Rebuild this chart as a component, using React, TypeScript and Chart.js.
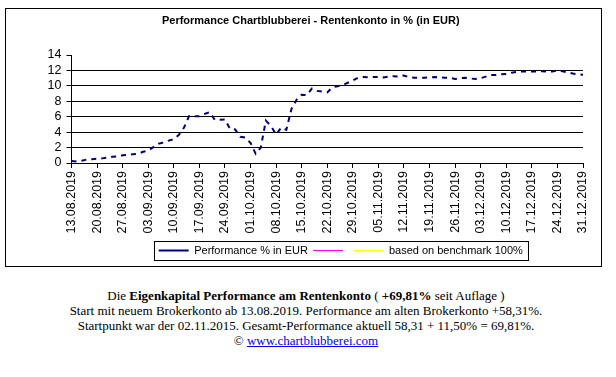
import React, { useEffect, useRef } from 'react';
import { Chart, registerables } from 'chart.js';

Chart.register(...registerables);

const chartTitle = 'Performance Chartblubberei - Rentenkonto in % (in EUR)';

const dates = [
  '13.08.2019', '14.08.2019', '15.08.2019', '16.08.2019', '19.08.2019', '20.08.2019', '21.08.2019', '22.08.2019', '23.08.2019', '26.08.2019',
  '27.08.2019', '28.08.2019', '29.08.2019', '30.08.2019', '02.09.2019', '03.09.2019', '04.09.2019', '05.09.2019', '06.09.2019', '09.09.2019',
  '10.09.2019', '11.09.2019', '12.09.2019', '13.09.2019', '16.09.2019', '17.09.2019', '18.09.2019', '19.09.2019', '20.09.2019', '23.09.2019',
  '24.09.2019', '25.09.2019', '26.09.2019', '27.09.2019', '30.09.2019', '01.10.2019', '02.10.2019', '03.10.2019', '04.10.2019', '07.10.2019',
  '08.10.2019', '09.10.2019', '10.10.2019', '11.10.2019', '14.10.2019', '15.10.2019', '16.10.2019', '17.10.2019', '18.10.2019', '21.10.2019',
  '22.10.2019', '23.10.2019', '24.10.2019', '25.10.2019', '28.10.2019', '29.10.2019', '30.10.2019', '31.10.2019', '01.11.2019', '04.11.2019',
  '05.11.2019', '06.11.2019', '07.11.2019', '08.11.2019', '11.11.2019', '12.11.2019', '13.11.2019', '14.11.2019', '15.11.2019', '18.11.2019',
  '19.11.2019', '20.11.2019', '21.11.2019', '22.11.2019', '25.11.2019', '26.11.2019', '27.11.2019', '28.11.2019', '29.11.2019', '02.12.2019',
  '03.12.2019', '04.12.2019', '05.12.2019', '06.12.2019', '09.12.2019', '10.12.2019', '11.12.2019', '12.12.2019', '13.12.2019', '16.12.2019',
  '17.12.2019', '18.12.2019', '19.12.2019', '20.12.2019', '23.12.2019', '24.12.2019', '25.12.2019', '26.12.2019', '27.12.2019', '30.12.2019',
  '31.12.2019',
];

const performance = [
  0.25, 0.2, 0.3, 0.45, 0.5, 0.55, 0.6, 0.7, 0.8, 0.85,
  1.0, 1.05, 1.15, 1.2, 1.45, 1.6, 2.05, 2.5, 2.65, 2.9,
  3.1, 3.65, 4.6, 6.1, 6.05, 6.05, 6.35, 6.6, 5.6, 5.6,
  5.65, 4.4, 4.35, 3.4, 3.3, 2.6, 1.2, 2.0, 5.5, 4.8,
  3.7, 4.6, 4.3, 7.0, 8.2, 8.85, 8.8, 9.65, 9.35, 9.25,
  9.15, 9.8, 9.95, 10.1, 10.4, 10.7, 11.05, 11.15, 11.1, 11.15,
  11.15, 11.1, 11.2, 11.25, 11.2, 11.35, 11.1, 11.05, 11.05, 11.05,
  11.1, 11.15, 11.1, 11.05, 11.05, 10.9, 11.0, 11.05, 10.95, 10.9,
  11.0, 11.2, 11.4, 11.4, 11.5, 11.55, 11.7, 11.8, 11.85, 11.85,
  11.85, 11.85, 11.9, 11.85, 11.85, 12.0, 11.9, 11.75, 11.6, 11.5,
  11.45,
];

const seriesNames = ['Performance % in EUR', '', 'based on benchmark 100%'];
const seriesColors = ['#000080', '#ff00ff', '#ffff00'];

const yMin = 0;
const yMax = 14;
const yStep = 2;
const labelEvery = 5;

const sansFont = '"Liberation Sans", Arial, sans-serif';

export default function App() {
  const canvasRef = useRef<HTMLCanvasElement>(null);

  useEffect(() => {
    if (!canvasRef.current) return;
    const legendShift = 30;
    const legendFrame = {
      id: 'legendFrame',
      afterLayout(chart: any) {
        const lg = chart.legend;
        if (lg) {
          lg.left += legendShift;
          lg.right += legendShift;
        }
      },
      afterDraw(chart: any) {
        const lg = chart.legend;
        if (!lg || !lg.legendHitBoxes || !lg.legendHitBoxes.length) return;
        const hb = lg.legendHitBoxes;
        const first = hb[0];
        const last = hb[hb.length - 1];
        const x0 = Math.round(first.left - 5) + 0.5;
        const x1 = Math.round(last.left + last.width + 5) + 0.5;
        const y0 = Math.round(first.top - 4) + 0.5;
        const y1 = Math.round(first.top + first.height + 4) + 0.5;
        const ctx = chart.ctx;
        ctx.save();
        ctx.strokeStyle = '#000';
        ctx.lineWidth = 1;
        ctx.setLineDash([]);
        ctx.strokeRect(x0, y0, x1 - x0, y1 - y0);
        ctx.restore();
      },
    };

    const chart = new Chart(canvasRef.current, {
      type: 'line',
      data: {
        labels: dates,
        datasets: [
          {
            label: seriesNames[0],
            data: performance,
            borderColor: seriesColors[0],
            backgroundColor: seriesColors[0],
            borderWidth: 2,
            borderDash: [5, 5],
            pointRadius: 0,
            tension: 0,
            fill: false,
          },
          {
            label: seriesNames[1],
            data: [],
            borderColor: seriesColors[1],
            backgroundColor: seriesColors[1],
            borderWidth: 1,
            pointRadius: 0,
          },
          {
            label: seriesNames[2],
            data: [],
            borderColor: seriesColors[2],
            backgroundColor: seriesColors[2],
            borderWidth: 1,
            pointRadius: 0,
          },
        ],
      },
      options: {
        responsive: false,
        animation: false,
        events: [],
        layout: { padding: { left: 25.5, right: 11, top: 0, bottom: 0 } },
        plugins: {
          title: {
            display: true,
            text: chartTitle,
            color: '#000',
            font: { family: sansFont, size: 11, weight: 'bold' },
            padding: { top: 5, bottom: 27.8 },
          },
          legend: {
            display: true,
            position: 'bottom',
            labels: {
              color: '#000',
              font: { family: sansFont, size: 11 },
              usePointStyle: true,
              pointStyle: 'line',
              pointStyleWidth: 30,
              boxWidth: 30,
              padding: 5,
            },
          },
          tooltip: { enabled: false },
        },
        scales: {
          x: {
            type: 'category',
            offset: false,
            afterFit(scale: any) {
              scale.height = 77;
            },
            grid: {
              drawOnChartArea: false,
              drawTicks: true,
              tickLength: 5,
              tickColor: (ctx: any) => (ctx.index % labelEvery === 0 ? '#000' : 'rgba(0,0,0,0)'),
            },
            border: { color: '#000', width: 1 },
            ticks: {
              autoSkip: false,
              maxRotation: 90,
              minRotation: 90,
              padding: 3,
              color: '#000',
              font: { family: sansFont, size: 12.5 },
              callback: (_v: any, i: number) => (i % labelEvery === 0 ? dates[i] : ''),
            },
          },
          y: {
            min: yMin,
            max: yMax,
            afterFit(scale: any) {
              scale.width = 40;
            },
            grid: {
              color: (ctx: any) => (ctx.tick && ctx.tick.value === yMax ? 'rgba(0,0,0,0)' : '#000'),
              tickColor: '#000',
              tickLength: 5,
              lineWidth: 1,
            },
            border: { color: '#000', width: 1 },
            ticks: {
              stepSize: yStep,
              autoSkip: false,
              padding: 5,
              color: '#000',
              font: { family: sansFont, size: 12.5 },
            },
          },
        },
      },
      plugins: [legendFrame],
    } as any);

    return () => chart.destroy();
  }, []);

  return (
    <div style={{ position: 'absolute', left: 0, top: 0, width: 616, height: 377, background: '#fff' }}>
      <div
        style={{
          position: 'absolute',
          left: 5,
          top: 8,
          width: 597,
          height: 259,
          border: '1px solid #000',
          boxSizing: 'border-box',
        }}
      >
        <canvas ref={canvasRef} width={595} height={257} style={{ display: 'block', width: 595, height: 257 }} />
      </div>
      <div
        style={{
          position: 'absolute',
          left: 0,
          top: 287.5,
          width: 612,
          textAlign: 'center',
          fontFamily: '"Liberation Serif", "Times New Roman", serif',
          fontSize: 13,
          lineHeight: '15.3px',
          color: '#000',
        }}
      >
        <div>
          Die <b>Eigenkapital Performance am Rentenkonto</b> ( <b>+69,81%</b> seit Auflage )
        </div>
        <div>Start mit neuem Brokerkonto ab 13.08.2019. Performance am alten Brokerkonto +58,31%.</div>
        <div>Startpunkt war der 02.11.2015. Gesamt-Performance aktuell 58,31 + 11,50% = 69,81%.</div>
        <div>
          © <a href="#" style={{ color: '#0000ff' }}>www.chartblubberei.com</a>
        </div>
      </div>
    </div>
  );
}
